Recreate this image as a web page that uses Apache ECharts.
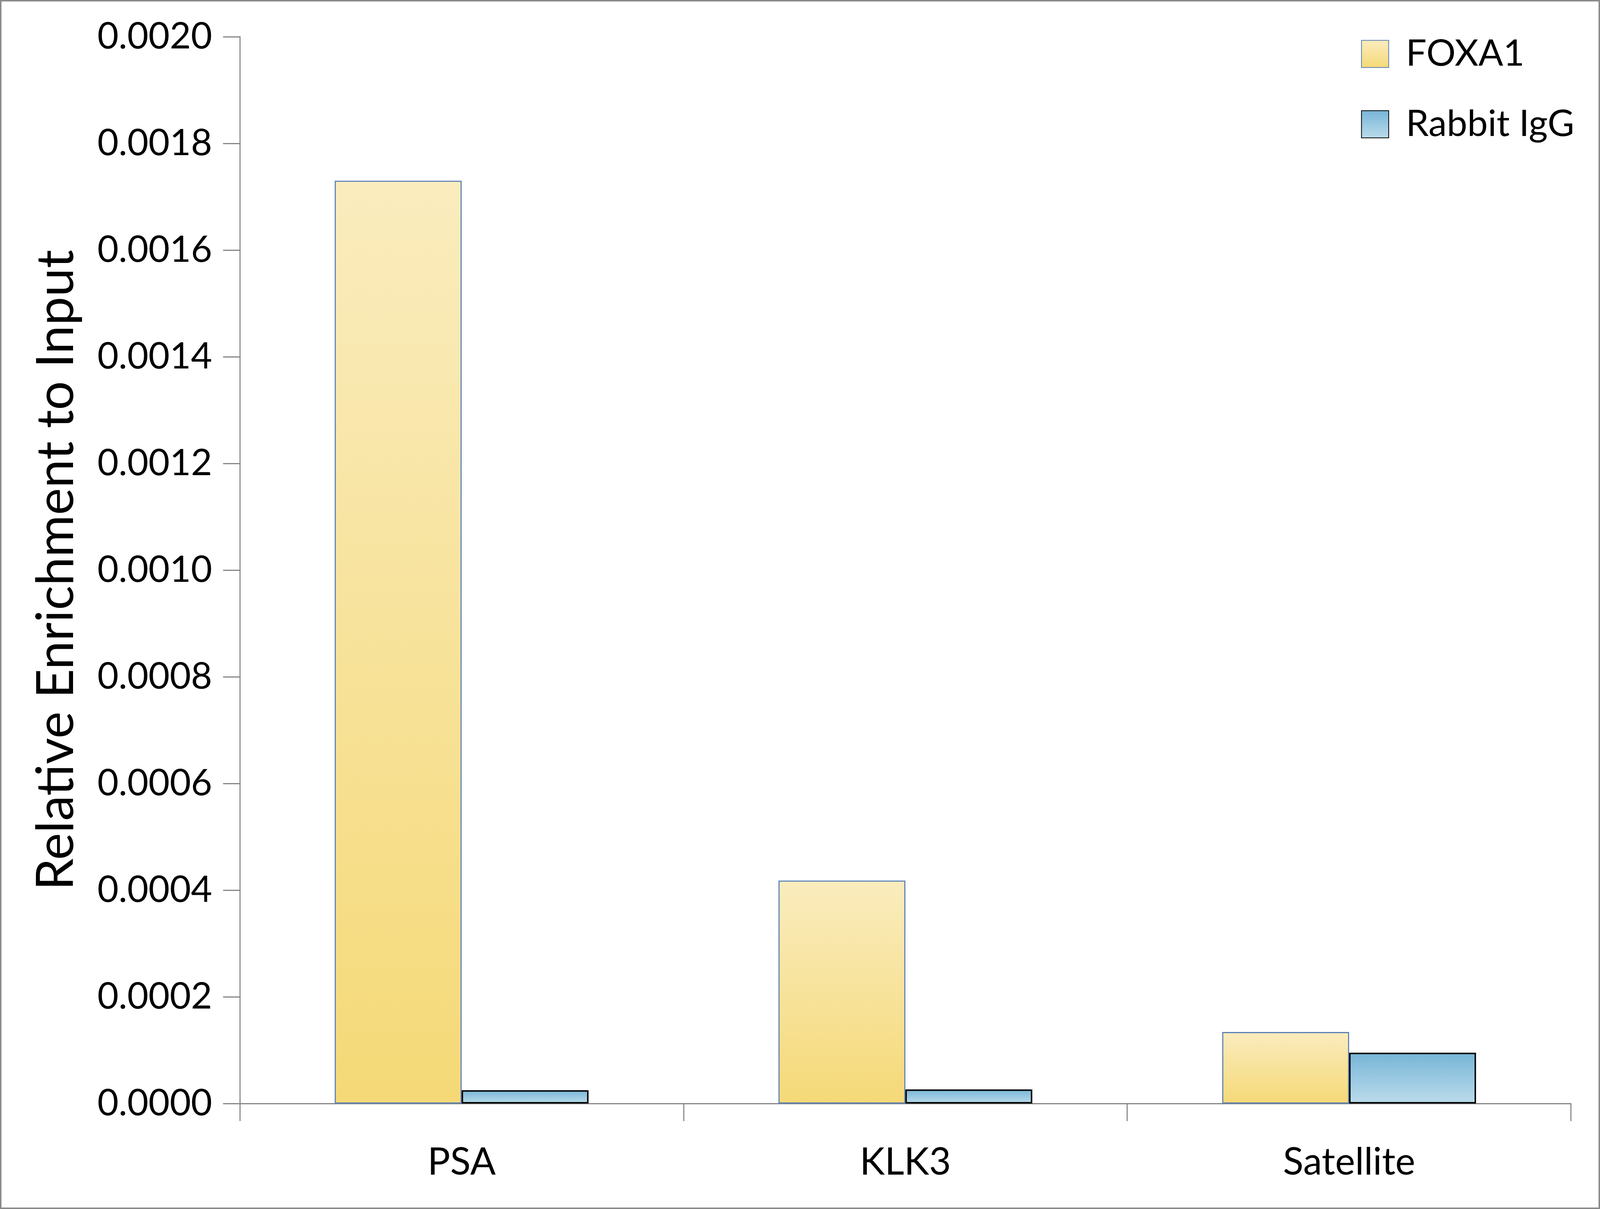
<!DOCTYPE html>
<html>
<head>
<meta charset="utf-8">
<script src="https://cdn.jsdelivr.net/npm/echarts@6/dist/echarts.min.js"></script>
<style>
html,body{margin:0;padding:0;background:#fff;overflow:hidden;}
#chart{position:absolute;left:0;top:0;}
</style>
</head>
<body>
<div id="chart"></div>
<script>
const categories = ['PSA', 'KLK3', 'Satellite'];
const foxa1Values = [0.001730, 0.000418, 0.000134];
const iggValues = [0.0000249, 0.0000264, 0.0000952];
const yTickLabels = ['0.0000','0.0002','0.0004','0.0006','0.0008','0.0010','0.0012','0.0014','0.0016','0.0018','0.0020'];
const yTitle = 'Relative Enrichment to Input';
const seriesNames = ['FOXA1', 'Rabbit IgG'];

const FONT = 'Lato';
const axisGray = '#868686';

const W = window.innerWidth || 4411;
const H = window.innerHeight || 3094;
const kx = W / 4411, ky = H / 3094;
const k = Math.min(kx, ky);
const el = document.getElementById('chart');
el.style.width = W + 'px';
el.style.height = H + 'px';

const chart = echarts.init(el, null, {renderer: 'canvas', width: W, height: H});
chart.setOption({
  backgroundColor: '#ffffff',
  animation: false,
  textStyle: {fontFamily: FONT, color: '#000'},
  graphic: [{
    type: 'rect',
    shape: {x: 2 * k, y: 2 * k, width: W - 4 * k, height: H - 4 * k},
    style: {fill: 'none', stroke: '#898989', lineWidth: 4 * k},
    silent: true
  }],
  legend: {
    orient: 'vertical',
    left: 3747 * kx,
    top: 86 * ky,
    itemWidth: 75 * k,
    itemHeight: 75 * k,
    itemGap: 86 * ky,
    icon: 'rect',
    textStyle: {fontFamily: FONT, fontSize: 101 * k, lineHeight: 75 * k, color: '#000', padding: [0, 0, 0, 42 * kx]},
    data: seriesNames
  },
  grid: {left: 661 * kx, right: 80 * kx, top: 94 * ky, bottom: 270 * ky, containLabel: false},
  xAxis: {
    type: 'category',
    data: categories,
    axisLine: {show: true, lineStyle: {color: axisGray, width: 3 * k}},
    axisTick: {show: true, length: 45 * ky, lineStyle: {color: axisGray, width: 3 * k}},
    axisLabel: {fontFamily: FONT, fontSize: 104 * k, color: '#000', margin: 102 * ky},
    splitLine: {show: false}
  },
  yAxis: {
    type: 'value',
    min: 0,
    max: 0.002,
    interval: 0.0002,
    name: yTitle,
    nameLocation: 'middle',
    nameRotate: 90,
    nameGap: 435 * kx,
    nameTextStyle: {fontFamily: FONT, fontSize: 131 * ky, color: '#000'},
    axisLine: {show: true, lineStyle: {color: axisGray, width: 3 * k}},
    axisTick: {show: true, length: 46 * kx, lineStyle: {color: axisGray, width: 3 * k}},
    axisLabel: {
      fontFamily: FONT, fontSize: 101 * k, color: '#000', margin: 76 * kx,
      formatter: function (v, i) { return yTickLabels[i] !== undefined ? yTickLabels[i] : v.toFixed(4); }
    },
    splitLine: {show: false}
  },
  series: [
    {
      name: seriesNames[0],
      type: 'bar',
      data: foxa1Values,
      barGap: '0%',
      barCategoryGap: '42.8%',
      itemStyle: {
        color: new echarts.graphic.LinearGradient(0, 0, 0, 1, [
          {offset: 0, color: '#FAECBE'},
          {offset: 1, color: '#F5D977'}
        ]),
        borderColor: '#5A80B4',
        borderWidth: 3 * k
      }
    },
    {
      name: seriesNames[1],
      type: 'bar',
      data: iggValues,
      barGap: '0%',
      barCategoryGap: '42.8%',
      itemStyle: {
        color: new echarts.graphic.LinearGradient(0, 0, 0, 1, [
          {offset: 0, color: '#77B5D7'},
          {offset: 1, color: '#BBDCEB'}
        ]),
        borderColor: '#000000',
        borderWidth: 4 * k
      }
    }
  ]
});
</script>
</body>
</html>
